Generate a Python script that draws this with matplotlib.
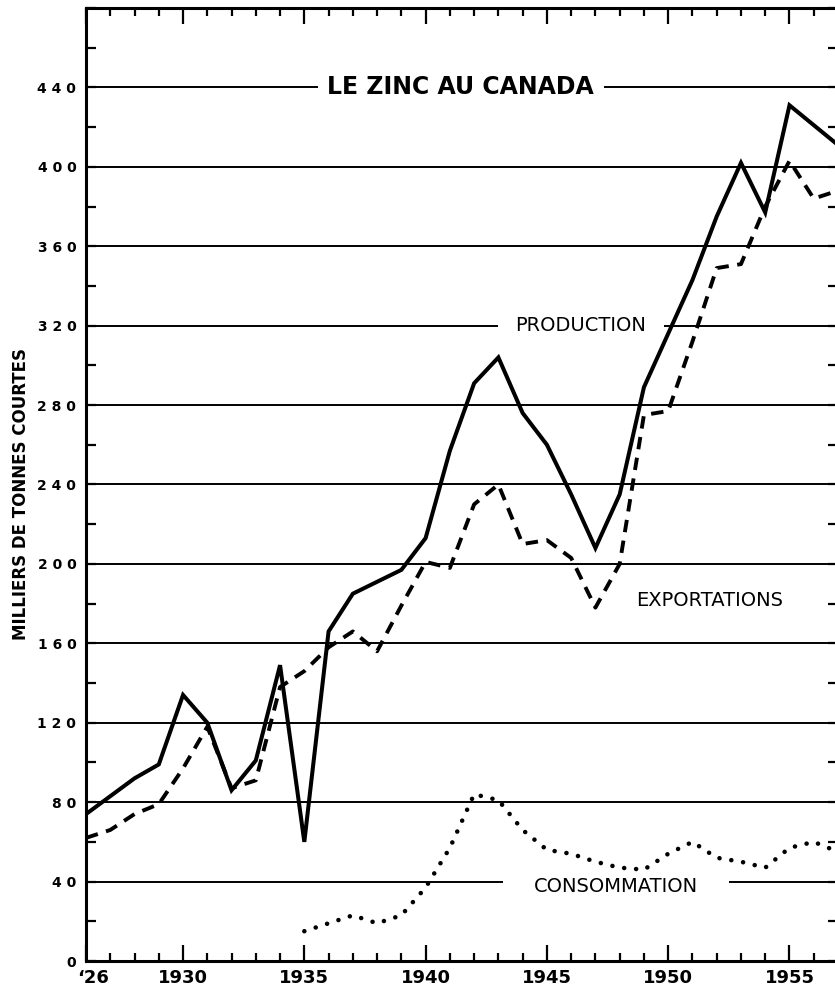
import matplotlib
matplotlib.use("Agg")
import matplotlib.pyplot as plt
from matplotlib.ticker import FixedLocator, MultipleLocator, FixedFormatter
from matplotlib.transforms import ScaledTranslation

# ---- data -------------------------------------------------------------
years = list(range(1926, 1958))
production = [74, 83, 92, 99, 134, 120, 86, 101, 149, 60, 166, 185, 191, 197,
              213, 257, 291, 304, 276, 260, 235, 208, 235, 289, 316, 343, 375,
              402, 377, 431, 421, 411]
exportations = [62, 66, 74, 79, 97, 118, 87, 91, 138, 146, 158, 166, 156, 179,
                201, 198, 230, 240, 210, 212, 203, 178, 200, 275, 277, 312, 349,
                351, 380, 403, 384, 388]
cons_years = list(range(1935, 1958))
consommation = [15, 19, 23, 19, 23, 37, 57, 84, 81, 66, 56, 54, 50, 47, 46, 54,
                60, 52, 50, 47, 57, 60, 55]

x_tick_values = [1926, 1930, 1935, 1940, 1945, 1950, 1955]
x_tick_labels = ["\u201826", "1930", "1935", "1940", "1945", "1950", "1955"]
y_tick_values = [0, 40, 80, 120, 160, 200, 240, 280, 320, 360, 400, 440]

title = "LE ZINC AU CANADA"
ylabel = "MILLIERS DE TONNES COURTES"

# ---- figure -------------------------------------------------------------
plt.rcParams['font.family'] = ['DejaVu Sans']
W, H = 835, 988
fig = plt.figure(figsize=(W / 100, H / 100), dpi=100)
ax = fig.add_axes([86 / W, 27 / H, (838 - 86) / W, (961 - 8) / H])

ax.set_xlim(1926, 1957)
ax.set_ylim(0, 480)

# data lines
ax.plot(years, production, color='black', lw=2.9, solid_joinstyle='miter',
        zorder=3)
ax.plot(years, exportations, color='black', lw=2.8, linestyle=(0, (3.2, 2.2)),
        dash_capstyle='butt', zorder=3)
ax.plot(cons_years, consommation, color='black', lw=3.3,
        linestyle=(0, (0.01, 2.6)), dash_capstyle='round', zorder=3)

# grid
ax.yaxis.set_major_locator(FixedLocator(y_tick_values))
ax.yaxis.set_minor_locator(MultipleLocator(20))
ax.yaxis.set_major_formatter(FixedFormatter([" ".join(str(v)) for v in y_tick_values]))
ax.grid(axis='y', which='major', color='black', lw=1.4)
ax.set_axisbelow(True)

ax.xaxis.set_major_locator(FixedLocator(x_tick_values))
ax.xaxis.set_minor_locator(MultipleLocator(1))
ax.xaxis.set_major_formatter(FixedFormatter(x_tick_labels))

for side in ['left', 'top', 'bottom', 'right']:
    ax.spines[side].set_linewidth(2.2)

ax.tick_params(axis='x', which='both', direction='in', top=True, bottom=True,
               width=1.6, colors='black')
ax.tick_params(axis='x', which='major', length=11.5, pad=6.0,
               labelsize=13)
ax.tick_params(axis='x', which='minor', length=5.8)
ax.tick_params(axis='y', which='both', direction='in', left=True, right=True,
               width=1.6, length=7, colors='black')
ax.tick_params(axis='y', which='major', pad=7, labelsize=10)

for lbl in ax.get_xticklabels():
    lbl.set_fontweight('bold')
for lbl in ax.get_yticklabels():
    lbl.set_fontweight('bold')

first = ax.get_xticklabels()[0]
first.set_horizontalalignment('left')
first.set_transform(first.get_transform() +
                    ScaledTranslation(-9 / 100, 0, fig.dpi_scale_trans))

ax.set_ylabel(ylabel, fontsize=12, fontweight='bold')
ax.yaxis.set_label_coords(-0.0745, 0.49)

# annotations
ax.text(1941.45, 440, title, fontsize=17, fontweight='bold', ha='center',
        va='center', zorder=2,
        bbox=dict(boxstyle='square,pad=0.4', fc='white', ec='none'))
ax.text(1946.4, 320, "PRODUCTION", fontsize=14, ha='center', va='center',
        zorder=2, bbox=dict(boxstyle='square,pad=0.9', fc='white', ec='none'))
ax.text(1947.85, 37.5, "CONSOMMATION", fontsize=14, ha='center', va='center',
        zorder=2, bbox=dict(boxstyle='square,pad=1.6', fc='white', ec='none'))
ax.text(1951.7, 181.5, "EXPORTATIONS", fontsize=14, ha='center', va='center',
        zorder=2)

fig.savefig("out.png", dpi=100)
